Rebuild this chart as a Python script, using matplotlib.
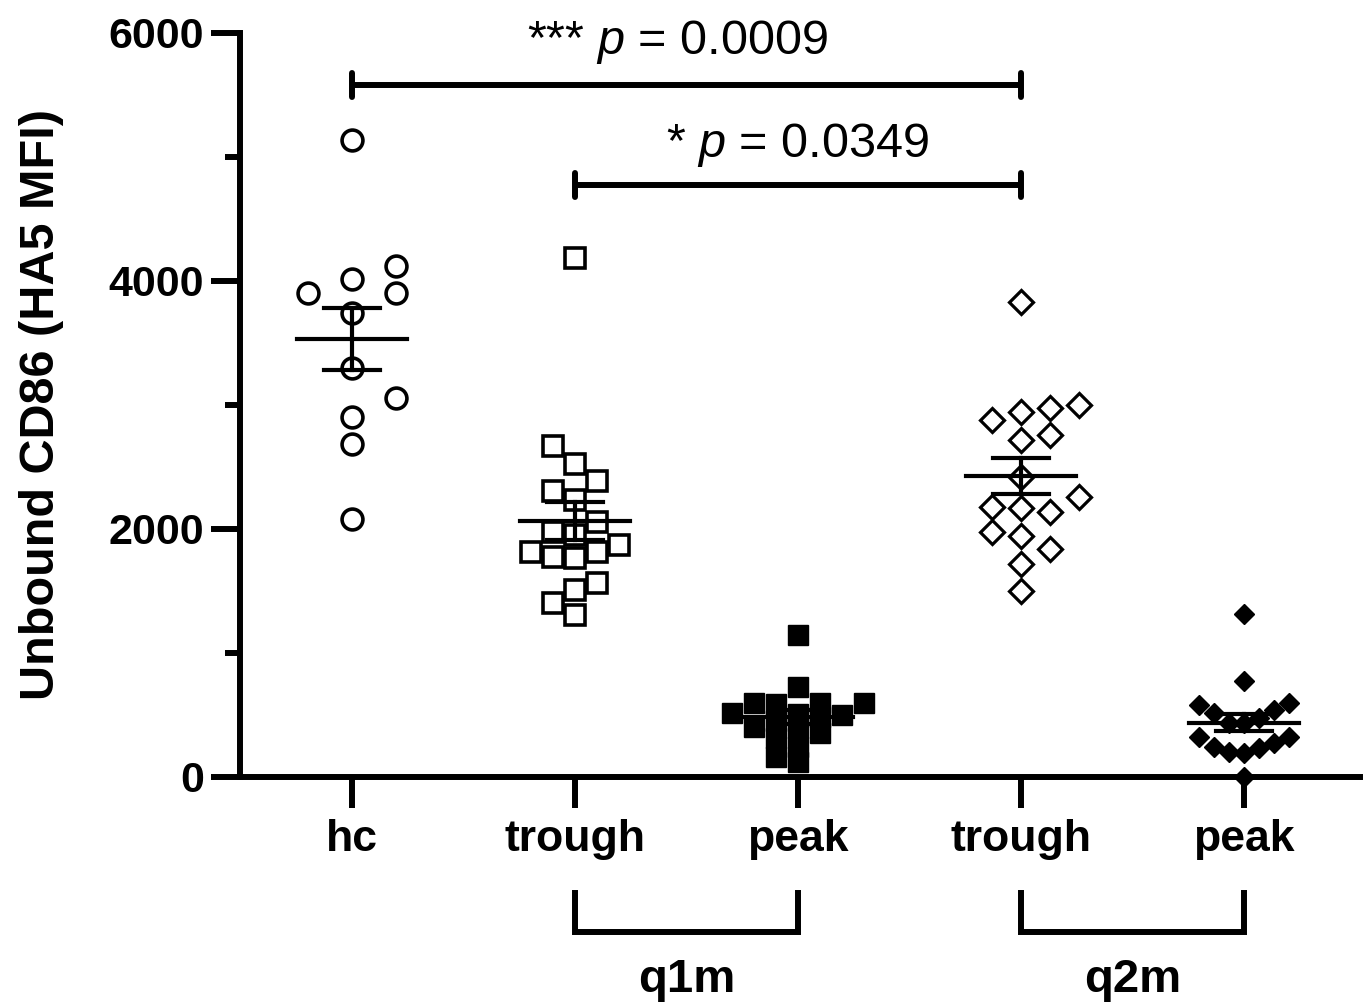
import matplotlib.pyplot as plt
import numpy as np

plt.rcParams["font.family"] = ["Liberation Sans", "DejaVu Sans"]
plt.rcParams["mathtext.fontset"] = "custom"
plt.rcParams["mathtext.rm"] = "Liberation Sans"
plt.rcParams["mathtext.it"] = "Liberation Sans:italic"

# data (HA5 MFI)
group_labels = ["hc", "trough", "peak", "trough", "peak"]
hc = [5137, 4121, 4016, 3903, 3903, 3744, 3301, 3056, 2903, 2685, 2081]
q1m_trough = [4183, 2669, 2522, 2387, 2306, 2234, 2059, 1978, 1952, 1871,
              1777, 1817, 1764, 1817, 1562, 1508, 1401, 1306]
q1m_peak = [1145, 728, 600, 594, 594, 590, 514, 508, 500, 480,
            450, 406, 395, 352, 312, 245, 164, 123]
q2m_trough = [3833, 2879, 2973, 3000, 2946, 2718, 2758, 2422, 2167, 2140,
              2180, 2261, 1978, 1944, 1836, 1715, 1502]
q2m_peak = [1312, 774, 514, 581, 594, 540, 433, 433, 473, 325,
            245, 325, 272, 204, 231, 191, 3]
comparisons = [(0, 3, 5581, "*** $\\mathit{p}$ = 0.0009", 1.46, 5831),
               (1, 3, 4774, "* $\\mathit{p}$ = 0.0349", 2.0, 5000)]
regimens = [("q1m", 1, 2), ("q2m", 3, 4)]

W, H = 1365, 1006
AX_L, AX_R, AX_B, AX_T = 240, 1360, 777, 33
XLIM = (-0.502, 4.52)
YMAX = 6000
PX_X = (AX_R - AX_L) / (XLIM[1] - XLIM[0])
PX_Y = (AX_B - AX_T) / YMAX


def swarm(vals, step, dist, first=1):
    """column offsets (data units) so markers don't overlap, prism-like"""
    vals = np.asarray(vals, float)
    cands = [0.0]
    for k in range(1, 14):
        cands += [first * k * step / 2, -first * k * step / 2]
    placed = []
    offs = np.zeros(len(vals))
    for i in np.argsort(vals):
        y = vals[i] * PX_Y
        for c in cands:
            if all(abs(c - px) >= step - 1e-6 or abs(y - py) >= dist for px, py in placed):
                break
        placed.append((c, y))
        offs[i] = c / PX_X
    return offs


groups = [
    (hc, dict(marker="o", mfc="white", ms=15, mew=2.6), 44, 24, 1),
    (q1m_trough, dict(marker="s", mfc="white", ms=14, mew=2.6), 22, 22, -1),
    (q1m_peak, dict(marker="s", mfc="black", ms=15, mew=1), 22, 14, -1),
    (q2m_trough, dict(marker="D", mfc="white", ms=12, mew=2.3), 29, 25, 1),
    (q2m_peak, dict(marker="D", mfc="black", ms=10.5, mew=1), 15, 20, -1),
]

fig = plt.figure(figsize=(W / 100, H / 100), dpi=100)
ax = fig.add_axes([AX_L / W, 1 - AX_B / H, (AX_R - AX_L) / W, (AX_B - AX_T) / H])

for i, (vals, style, step, dist, first) in enumerate(groups):
    x = i + swarm(vals, step, dist, first)
    ax.plot(x, vals, ls="none", mec="black", zorder=3, clip_on=False, **style)
    v = np.asarray(vals, float)
    m = v.mean()
    sem = v.std(ddof=1) / np.sqrt(len(v))
    ax.plot([i - 0.246, i + 0.246], [m, m], color="black", lw=3, zorder=4)
    ax.plot([i, i], [m - sem, m + sem], color="black", lw=3, zorder=4)
    for e in (m - sem, m + sem):
        ax.plot([i - 0.126, i + 0.126], [e, e], color="black", lw=3, zorder=4)

# significance bars
for a, b, y, txt, tx, ty in comparisons:
    ax.plot([a, b], [y, y], color="black", lw=4.3, solid_capstyle="butt", clip_on=False)
    for xe in (a, b):
        ax.plot([xe, xe], [y - 100, y + 100], color="black", lw=4.3,
                solid_capstyle="round", clip_on=False)
    ax.text(tx, ty, txt, ha="center", va="baseline", fontsize=35)

# regimen brackets under the x labels
tr = ax.get_xaxis_transform()
for name, a, b in regimens:
    ax.plot([a, a, b, b], [-0.156, -0.209, -0.209, -0.156], transform=tr,
            color="black", lw=4.3, clip_on=False, solid_joinstyle="miter")
    ax.text((a + b) / 2, -0.289, name, transform=tr, ha="center", va="baseline",
            fontsize=34, fontweight="bold")

ax.set_xlim(*XLIM)
ax.set_ylim(0, YMAX)
ax.set_xticks(range(len(group_labels)))
ax.set_xticklabels(group_labels, fontsize=32, fontweight="bold")
ax.set_yticks([0, 2000, 4000, 6000])
ax.set_yticks([1000, 3000, 5000], minor=True)
ax.set_yticklabels(["0", "2000", "4000", "6000"], fontsize=31, fontweight="bold")
ax.set_ylabel("Unbound CD86 (HA5 MFI)", fontsize=35, fontweight="bold", labelpad=32)

for s in ("top", "right"):
    ax.spines[s].set_visible(False)
for s in ("left", "bottom"):
    ax.spines[s].set_linewidth(4.3)
ax.tick_params(axis="y", which="major", length=21, width=4.3, pad=5)
ax.tick_params(axis="y", which="minor", length=11, width=4.3)
ax.tick_params(axis="x", which="major", length=22, width=4.3, pad=8)

fig.savefig("out.png", dpi=100)
